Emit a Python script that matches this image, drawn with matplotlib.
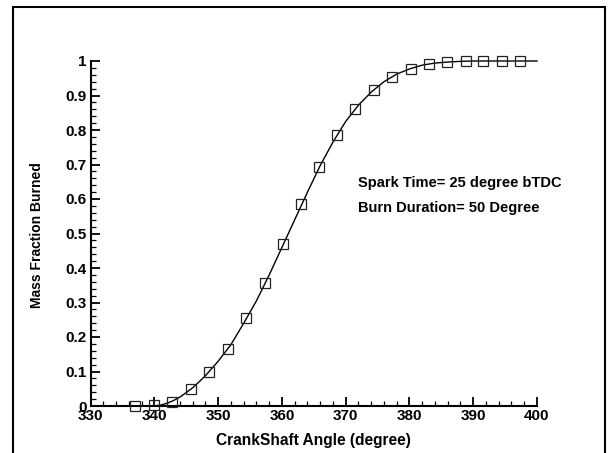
import matplotlib
matplotlib.use("Agg")
import matplotlib.pyplot as plt
from matplotlib.ticker import MultipleLocator
from matplotlib.patches import Rectangle

# Smooth curve
curve_angle = [340, 341, 342, 343, 344, 345, 346, 347, 348, 350, 352, 354, 356, 358,
               360, 362, 364, 366, 368, 370, 372, 374, 376, 378, 380, 382, 384, 386,
               388, 390, 395, 400]
curve_mfb = [0.0, 0.003, 0.008, 0.016, 0.026, 0.039, 0.053, 0.07, 0.088, 0.13, 0.178,
             0.24, 0.305, 0.38, 0.46, 0.54, 0.62, 0.697, 0.765, 0.825, 0.872, 0.91,
             0.94, 0.962, 0.977, 0.988, 0.994, 0.997, 0.999, 1.0, 1.0, 1.0]

# Square markers
marker_angle = [337.0, 340.0, 342.8, 345.7, 348.6, 351.5, 354.4, 357.3, 360.2, 363.0,
                365.8, 368.7, 371.5, 374.4, 377.3, 380.2, 383.1, 385.9, 388.9, 391.6,
                394.5, 397.3]
marker_mfb = [0.0, 0.002, 0.012, 0.049, 0.098, 0.165, 0.254, 0.357, 0.471, 0.586,
              0.693, 0.786, 0.861, 0.916, 0.953, 0.978, 0.991, 0.996, 0.999, 1.0,
              1.0, 1.0]

x_ticks = [330, 340, 350, 360, 370, 380, 390, 400]
x_tick_labels = ["330", "340", "350", "360", "370", "380", "390", "400"]
y_ticks = [0, 0.1, 0.2, 0.3, 0.4, 0.5, 0.6, 0.7, 0.8, 0.9, 1.0]
y_tick_labels = ["0", "0.1", "0.2", "0.3", "0.4", "0.5", "0.6", "0.7", "0.8", "0.9", "1"]

annotations = ["Spark Time= 25 degree bTDC", "Burn Duration= 50 Degree"]

plt.rcParams['font.family'] = ['Liberation Sans', 'DejaVu Sans']

W, H = 609, 453
fig = plt.figure(figsize=(W / 100, H / 100), dpi=100)
ax = fig.add_axes([90.7 / W, 1 - 406 / H, (537 - 90.7) / W, (406 - 61) / H])

ax.plot(curve_angle, curve_mfb, color='black', lw=1.0, clip_on=False, zorder=3)
ax.plot(marker_angle, marker_mfb, ls='none', marker='s', markersize=7.3,
        markerfacecolor='none', markeredgecolor='#222222', markeredgewidth=0.9,
        clip_on=False, zorder=4)

ax.set_xlim(330, 400)
ax.set_ylim(0, 1)
ax.set_xticks(x_ticks)
ax.set_xticklabels(x_tick_labels)
ax.set_yticks(y_ticks)
ax.set_yticklabels(y_tick_labels)
ax.xaxis.set_minor_locator(MultipleLocator(2))
ax.yaxis.set_minor_locator(MultipleLocator(0.02))

for s in ['top', 'right']:
    ax.spines[s].set_visible(False)
for s in ['left', 'bottom']:
    ax.spines[s].set_linewidth(1.5)

ax.tick_params(which='major', direction='in', length=6.5, width=1.3, labelsize=11)
ax.tick_params(axis='x', which='major', pad=2)
ax.tick_params(axis='y', which='major', pad=3)
ax.tick_params(which='minor', direction='in', length=3.3, width=0.9)
for lab in ax.get_xticklabels() + ax.get_yticklabels():
    lab.set_fontweight('bold')

ax.set_xlabel("CrankShaft Angle (degree)", fontsize=11.2, fontweight='bold')
ax.xaxis.set_label_coords(0.498, -0.0986)
ax.xaxis.label.set_va('center')
ax.set_ylabel("Mass Fraction Burned", fontsize=10, fontweight='bold',
              family=['Liberation Sans Narrow', 'Liberation Sans'])
ax.yaxis.set_label_coords(-0.120, 0.496)
ax.yaxis.label.set_va('center')

ax.text(0.599, 0.646, annotations[0], transform=ax.transAxes, fontsize=10.5,
        fontweight='bold', va='center', ha='left')
ax.text(0.599, 0.574, annotations[1], transform=ax.transAxes, fontsize=10.5,
        fontweight='bold', va='center', ha='left')

frame = Rectangle((13 / W, -0.2), (605 - 13) / W, 1.2 - 7 / H, transform=fig.transFigure,
                  fill=False, lw=1.5, edgecolor='black', clip_on=False)
fig.patches.append(frame)

fig.savefig("out.png", dpi=100)
